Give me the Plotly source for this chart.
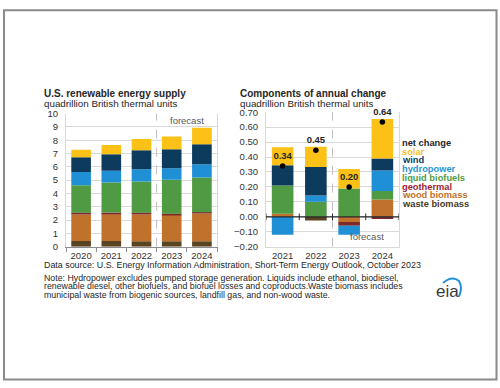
import plotly.graph_objects as go

# ---------------- data ----------------
supply_years = ["2020", "2021", "2022", "2023", "2024"]
waste_biomass = [0.42, 0.42, 0.40, 0.40, 0.40]
wood_biomass = [2.00, 2.02, 2.02, 1.985, 2.10]
geothermal = [0.12, 0.12, 0.12, 0.095, 0.08]
liquid_biofuels = [2.07, 2.26, 2.36, 2.55, 2.61]
hydropower = [1.00, 0.88, 0.92, 0.86, 1.00]
wind = [1.10, 1.24, 1.43, 1.43, 1.51]
solar = [0.57, 0.69, 0.83, 0.96, 1.23]

change_years = ["2021", "2022", "2023", "2024"]
waste_biomass_chg = [0.0, -0.025, 0.0, 0.0]
wood_biomass_chg = [0.02, 0.0, -0.035, 0.115]
geothermal_chg = [0.0, 0.0, -0.025, -0.015]
liquid_biofuels_chg = [0.19, 0.10, 0.19, 0.058]
hydropower_chg = [-0.12, 0.043, -0.06, 0.137]
wind_chg = [0.135, 0.19, 0.0, 0.08]
solar_chg = [0.12, 0.135, 0.13, 0.265]
net_change = [0.34, 0.445, 0.20, 0.635]
net_change_labels = ["0.34", "0.45", "0.20", "0.64"]

series_names = ["waste biomass", "wood biomass", "geothermal", "liquid biofuels",
                "hydropower", "wind", "solar"]
supply_values = [waste_biomass, wood_biomass, geothermal, liquid_biofuels,
                 hydropower, wind, solar]
change_values = [waste_biomass_chg, wood_biomass_chg, geothermal_chg, liquid_biofuels_chg,
                 hydropower_chg, wind_chg, solar_chg]

bar_colors = {
    "waste biomass": "#5A4321",
    "wood biomass": "#C0712B",
    "geothermal": "#7E2A2A",
    "liquid biofuels": "#509A43",
    "hydropower": "#1F8FD6",
    "wind": "#0C3B5E",
    "solar": "#FBC117",
}
legend_order = ["net change", "solar", "wind", "hydropower", "liquid biofuels",
                "geothermal", "wood biomass", "waste biomass"]
legend_text_colors = {
    "net change": "#262626",
    "solar": "#F6C11B",
    "wind": "#0C3B5E",
    "hydropower": "#2A93D5",
    "liquid biofuels": "#509A43",
    "geothermal": "#9A2436",
    "wood biomass": "#C0712B",
    "waste biomass": "#4A3A20",
}

W, H = 500, 388
FONT = "Arial, 'Liberation Sans', sans-serif"
TXT = "#333333"


def px(x):
    return x / W


def py(y):
    return 1 - y / H


fig = go.Figure()

for name, vals in zip(series_names, supply_values):
    fig.add_trace(go.Bar(x=supply_years, y=vals, name=name, xaxis="x", yaxis="y",
                         marker=dict(color=bar_colors[name], line=dict(width=0)),
                         showlegend=False))

for name, vals in zip(series_names, change_values):
    fig.add_trace(go.Bar(x=change_years, y=vals, name=name, xaxis="x2", yaxis="y2",
                         marker=dict(color=bar_colors[name], line=dict(width=0)),
                         showlegend=False))

fig.add_trace(go.Scatter(x=change_years, y=net_change, xaxis="x2", yaxis="y2",
                         mode="markers+text", text=net_change_labels,
                         textposition="top center",
                         textfont=dict(size=9.5, color="#262626", family=FONT, weight="bold"),
                         marker=dict(color="black", size=5.5),
                         cliponaxis=False, showlegend=False))

shapes = [
    # outer frame
    dict(type="rect", xref="paper", yref="paper", x0=px(4), x1=px(496.5),
         y0=py(384.5), y1=py(4.5), line=dict(color="#8A8A8A", width=2), layer="above"),
    # forecast dividers
    dict(type="line", xref="x", yref="y domain", x0=2.5, x1=2.5, y0=0, y1=1,
         line=dict(color="#BFBFBF", width=1, dash="dash")),
    dict(type="line", xref="x2", yref="y2 domain", x0=1.5, x1=1.5, y0=0, y1=1,
         line=dict(color="#BFBFBF", width=1, dash="dash")),
    # zero line of the change chart
    dict(type="line", xref="x2 domain", yref="y2", x0=0, x1=1, y0=0, y1=0,
         line=dict(color="#262626", width=1.3), layer="above"),
]
for i in range(len(change_years) + 1):
    shapes.append(dict(type="line", xref="x2", yref="y2", x0=i - 0.5, x1=i - 0.5,
                       y0=-0.022, y1=0.022, line=dict(color="#262626", width=1),
                       layer="above"))

annotations = [
    dict(text="<b>U.S. renewable energy supply</b>", x=px(43), y=py(90)),
    dict(text="quadrillion British thermal units", x=px(43), y=py(100.5), size=9.8),
    dict(text="<b>Components of annual change</b>", x=px(239), y=py(90)),
    dict(text="quadrillion British thermal units", x=px(239), y=py(100.5), size=9.8),
    dict(text="Data source: U.S. Energy Information Administration, Short-Term Energy Outlook, October 2023",
         x=px(43), y=py(267), size=8.9),
    dict(text="Note: Hydropower excludes pumped storage generation. Liquids include ethanol, biodiesel,",
         x=px(43), y=py(279.5), size=8.8),
    dict(text="renewable diesel, other biofuels, and biofuel losses and coproducts.Waste biomass includes",
         x=px(43), y=py(288.5), size=8.8),
    dict(text="municipal waste from biogenic sources, landfill gas, and non-wood waste.",
         x=px(43), y=py(297.5), size=8.8),
]
ann_objs = []
for a in annotations:
    ann_objs.append(dict(text=a["text"], x=a["x"], y=a["y"], xref="paper", yref="paper",
                         xanchor="left", yanchor="middle", showarrow=False, borderpad=0,
                         font=dict(family=FONT, size=a.get("size", 10), color="#262626")))

# forecast labels
ann_objs.append(dict(text="forecast", x=3.5, y=9.5, xref="x", yref="y", showarrow=False,
                     xanchor="center", yanchor="middle",
                     font=dict(family=FONT, size=9.5, color="#595959")))
ann_objs.append(dict(text="forecast", x=2.55, y=-0.132, xref="x2", yref="y2", showarrow=False,
                     xanchor="center", yanchor="middle",
                     font=dict(family=FONT, size=9.5, color="#595959")))

# text legend
for i, name in enumerate(legend_order):
    ann_objs.append(dict(text=f"<b>{name}</b>", x=px(401), y=py(140.7 + i * 9.05),
                         xref="paper", yref="paper", xanchor="left", yanchor="middle",
                         showarrow=False, borderpad=0,
                         font=dict(family=FONT, size=9.3, color=legend_text_colors[name])))

# eia logo
ann_objs.append(dict(text="eia", x=px(447), y=py(294), xref="paper", yref="paper",
                     xanchor="center", yanchor="middle", showarrow=False,
                     font=dict(family=FONT, size=17, color="#3A3A3A")))
shapes.append(dict(type="path", xref="paper", yref="paper",
                   path=(f"M {px(443)},{py(285)} Q {px(452)},{py(277)} {px(459)},{py(283)} "
                         f"Q {px(463)},{py(290)} {px(459)},{py(299)}"),
                   line=dict(color="#1F8FD6", width=2)))

axis_font = dict(family=FONT, size=9.5, color=TXT)

fig.update_layout(
    width=W, height=H,
    margin=dict(l=0, r=0, t=0, b=0),
    paper_bgcolor="white", plot_bgcolor="white",
    barmode="relative", bargap=0.35,
    font=dict(family=FONT, color=TXT),
    xaxis=dict(domain=[px(66), px(217)], type="category", range=[-0.5, 4.5],
               showline=True, linecolor="#8C8C8C", ticks="outside", tickson="boundaries",
               ticklen=4, tickcolor="#8C8C8C", showgrid=False, tickfont=axis_font,
               anchor="y", fixedrange=True),
    yaxis=dict(domain=[py(247.7), py(110.7)], range=[0, 10], dtick=1,
               gridcolor="#D9D9D9", showline=True, mirror=True, linecolor="#D9D9D9",
               zeroline=False, tickfont=axis_font, ticklabelstandoff=5, anchor="x"),
    xaxis2=dict(domain=[px(266), px(399)], type="category", range=[-0.5, 3.5],
                showline=True, linecolor="#D9D9D9", ticks="", showgrid=False,
                tickfont=axis_font, anchor="y2"),
    yaxis2=dict(domain=[py(247.7), py(109.3)], range=[-0.2, 0.7], dtick=0.1,
                tickformat=".2f", gridcolor="#D9D9D9", showline=True, mirror=True,
                linecolor="#D9D9D9", zeroline=False, tickfont=axis_font,
                ticklabelstandoff=5, anchor="x2"),
    shapes=shapes,
    annotations=ann_objs,
)

fig.write_html("out.html", config={"displayModeBar": False},
               post_script="document.body.style.margin='0px';document.body.style.overflow='hidden';")
